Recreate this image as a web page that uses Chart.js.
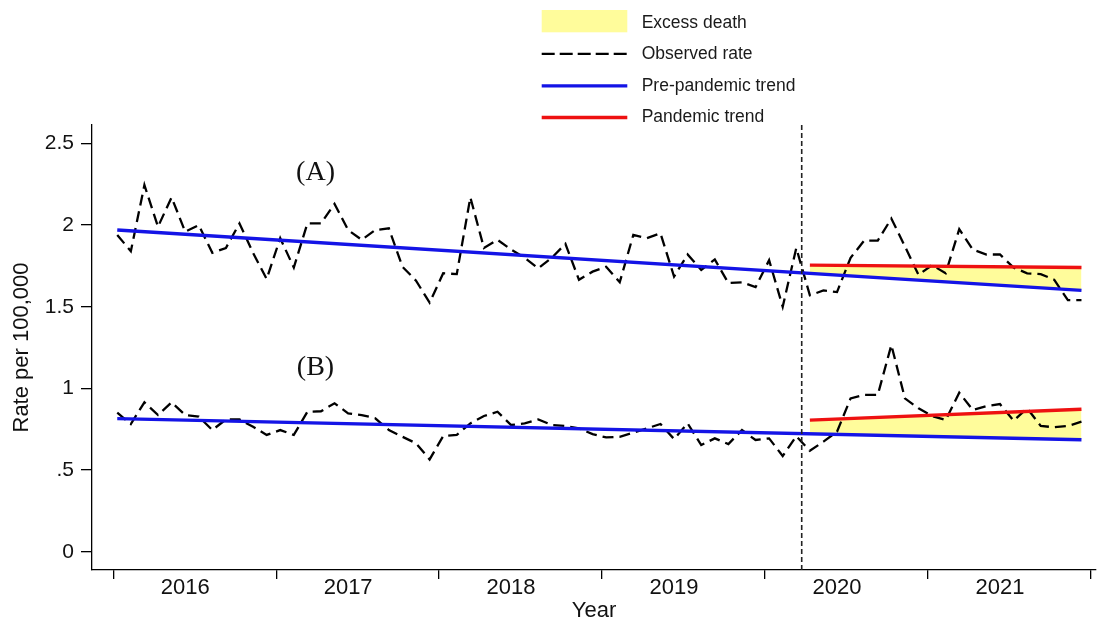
<!DOCTYPE html>
<html><head><meta charset="utf-8">
<script src="https://cdn.jsdelivr.net/npm/chart.js@4"></script>
<style>html,body{margin:0;padding:0;background:#fff}canvas{display:block}</style>
</head><body>
<canvas id="c" width="1100" height="624"></canvas>
<script>
// Month index: 0 = Jan 2016 ... 71 = Dec 2021
const observedA = [1.94,1.84,2.245,1.99,2.17,1.96,2.0,1.83,1.86,2.01,1.83,1.67,
  1.92,1.74,2.01,2.01,2.13,1.97,1.91,1.97,1.98,1.745,1.66,1.525,
  1.705,1.70,2.17,1.86,1.91,1.85,1.80,1.735,1.80,1.885,1.665,1.715,
  1.745,1.65,1.94,1.92,1.95,1.685,1.82,1.725,1.79,1.645,1.65,1.62,
  1.785,1.50,1.86,1.57,1.60,1.59,1.80,1.905,1.905,2.04,1.87,1.695,
  1.755,1.705,1.975,1.85,1.82,1.82,1.74,1.705,1.70,1.665,1.54,1.54];
const observedB = [0.851,0.782,0.915,0.837,0.915,0.837,0.827,0.745,0.81,0.81,0.765,0.715,
  0.745,0.715,0.857,0.86,0.909,0.847,0.837,0.817,0.745,0.704,0.664,0.565,
  0.708,0.715,0.786,0.831,0.857,0.776,0.786,0.81,0.776,0.77,0.755,0.72,
  0.70,0.704,0.729,0.755,0.782,0.69,0.786,0.653,0.694,0.659,0.745,0.684,
  0.694,0.586,0.708,0.618,0.674,0.735,0.939,0.96,0.96,1.266,0.939,0.878,
  0.831,0.806,0.974,0.868,0.892,0.904,0.802,0.878,0.77,0.762,0.77,0.796];

const preTrendX = [0, 71];
const preTrendA = [1.97, 1.60];
const preTrendB = [0.815, 0.686];
const pandemicTrendX = [51, 71];
const pandemicTrendA = [1.755, 1.74];
const pandemicTrendB = [0.806, 0.872];
const pandemicStart = 50.4;

const yTickValues = [0, 0.5, 1, 1.5, 2, 2.5];
const yTickLabels = ['0', '.5', '1', '1.5', '2', '2.5'];
const yearLabels = ['2016', '2017', '2018', '2019', '2020', '2021'];
const yearLabelPos = [5, 17, 29, 41, 53, 65];
const yearTickPos = [-0.3, 11.7, 23.7, 35.7, 47.7, 59.7, 71.7];
const panelLabels = ['(A)', '(B)'];
const panelLabelX = [14.6, 14.6];
const panelLabelY = [2.32, 1.125];
const legendLabels = ['Excess death', 'Observed rate', 'Pre-pandemic trend', 'Pandemic trend'];

const xMin = -1.86, xMax = 72.07, yMin = -0.112, yMax = 2.613;

const FILL = 'rgb(255,252,155)';
const BLUE = '#1414E6';
const RED = '#EE1111';
const SANS = "'Liberation Sans', Arial, Helvetica, sans-serif";

const pts = (xs, ys) => ys.map((v, i) => ({x: xs[i], y: v}));
const series = ys => ys.map((v, i) => ({x: i, y: v}));

const legendPlugin = {
  id: 'customLegend',
  afterDraw(chart) {
    const c = chart.ctx;
    c.save();
    const x0 = 541.7, x1 = 627.3, tx = 641.7;
    const rows = [22.7, 53.8, 85.9, 117.5];
    c.fillStyle = FILL;
    c.fillRect(x0, 10, x1 - x0, 22.3);
    c.lineCap = 'butt';
    c.strokeStyle = '#000'; c.lineWidth = 2.2; c.setLineDash([13, 5]);
    c.beginPath(); c.moveTo(x0, rows[1]); c.lineTo(x1, rows[1]); c.stroke();
    c.setLineDash([]);
    c.lineWidth = 3.4;
    c.strokeStyle = BLUE; c.beginPath(); c.moveTo(x0, rows[2]); c.lineTo(x1, rows[2]); c.stroke();
    c.strokeStyle = RED; c.beginPath(); c.moveTo(x0, rows[3]); c.lineTo(x1, rows[3]); c.stroke();
    c.fillStyle = '#1a1a1a';
    c.font = '17.5px ' + SANS;
    c.textBaseline = 'middle'; c.textAlign = 'left';
    legendLabels.forEach((t, i) => c.fillText(t, tx, rows[i]));
    c.restore();
  }
};

const panelPlugin = {
  id: 'panelLabels',
  afterDatasetsDraw(chart) {
    const c = chart.ctx, xs = chart.scales.x, ys = chart.scales.y;
    c.save();
    c.fillStyle = '#111';
    c.font = "28px 'Liberation Serif', 'Times New Roman', serif";
    c.textAlign = 'center'; c.textBaseline = 'middle';
    panelLabels.forEach((t, i) => c.fillText(t, xs.getPixelForValue(panelLabelX[i]), ys.getPixelForValue(panelLabelY[i])));
    c.restore();
  }
};

new Chart(document.getElementById('c'), {
  type: 'line',
  data: {
    datasets: [
      {label: 'fillA', data: pts(pandemicTrendX, pandemicTrendA), borderWidth: 0, borderColor: 'rgba(0,0,0,0)', backgroundColor: FILL, fill: {target: 4}, order: 10},
      {label: 'fillB', data: pts(pandemicTrendX, pandemicTrendB), borderWidth: 0, borderColor: 'rgba(0,0,0,0)', backgroundColor: FILL, fill: {target: 5}, order: 10},
      {label: 'Observed A', data: series(observedA), borderColor: '#000', borderWidth: 2.3, borderDash: [11, 6], fill: false, order: 5},
      {label: 'Observed B', data: series(observedB), borderColor: '#000', borderWidth: 2.3, borderDash: [11, 6], fill: false, order: 5},
      {label: 'Pre A', data: pts(preTrendX, preTrendA), borderColor: BLUE, borderWidth: 3.4, fill: false, order: 3},
      {label: 'Pre B', data: pts(preTrendX, preTrendB), borderColor: BLUE, borderWidth: 3.4, fill: false, order: 3},
      {label: 'Pand A', data: pts(pandemicTrendX, pandemicTrendA), borderColor: RED, borderWidth: 3.4, fill: false, order: 2},
      {label: 'Pand B', data: pts(pandemicTrendX, pandemicTrendB), borderColor: RED, borderWidth: 3.4, fill: false, order: 2},
      {label: 'Pandemic start', data: [{x: pandemicStart, y: yMin}, {x: pandemicStart, y: yMax}], borderColor: '#222', borderWidth: 1.6, borderDash: [5, 3], fill: false, order: 1}
    ]
  },
  options: {
    responsive: false,
    animation: false,
    elements: {point: {radius: 0, hoverRadius: 0}, line: {tension: 0}},
    layout: {padding: {top: 125, right: 4, left: 0, bottom: 0}},
    plugins: {legend: {display: false}, tooltip: {enabled: false}},
    scales: {
      x: {
        type: 'linear', min: xMin, max: xMax,
        afterFit(s) { s.height = 54; },
        afterBuildTicks(s) {
          s.ticks = yearTickPos.map(v => ({value: v})).concat(yearLabelPos.map(v => ({value: v})));
        },
        ticks: {
          autoSkip: false, maxRotation: 0, padding: -2, color: '#111',
          font: {family: SANS, size: 22, lineHeight: 1},
          callback(v) { const k = yearLabelPos.indexOf(v); return k >= 0 ? yearLabels[k] : ''; }
        },
        grid: {
          drawOnChartArea: false, drawTicks: true, tickLength: 9, lineWidth: 1.3, tickWidth: 1.3,
          tickColor(ctx) { return ctx.tick && yearTickPos.indexOf(ctx.tick.value) >= 0 ? '#000' : 'rgba(0,0,0,0)'; }
        },
        border: {display: true, color: '#000', width: 1.3},
        title: {display: true, text: 'Year', color: '#111', font: {family: SANS, size: 22, lineHeight: 1.2}, padding: {top: 0, bottom: 0}}
      },
      y: {
        type: 'linear', min: yMin, max: yMax,
        afterFit(s) { s.width = 92; },
        afterBuildTicks(s) { s.ticks = yTickValues.map(v => ({value: v})); },
        ticks: {
          padding: 7, color: '#111',
          font: {family: SANS, size: 21},
          callback(v) { const k = yTickValues.indexOf(v); return k >= 0 ? yTickLabels[k] : ''; }
        },
        grid: {drawOnChartArea: false, drawTicks: true, tickLength: 11, lineWidth: 1.3, tickWidth: 1.3, tickColor: '#000'},
        border: {display: true, color: '#000', width: 1.3},
        title: {display: true, text: 'Rate per 100,000', color: '#111', font: {family: SANS, size: 22, lineHeight: 1.2}, padding: {top: 9, bottom: 0}}
      }
    }
  },
  plugins: [legendPlugin, panelPlugin]
});
</script>
</body></html>
